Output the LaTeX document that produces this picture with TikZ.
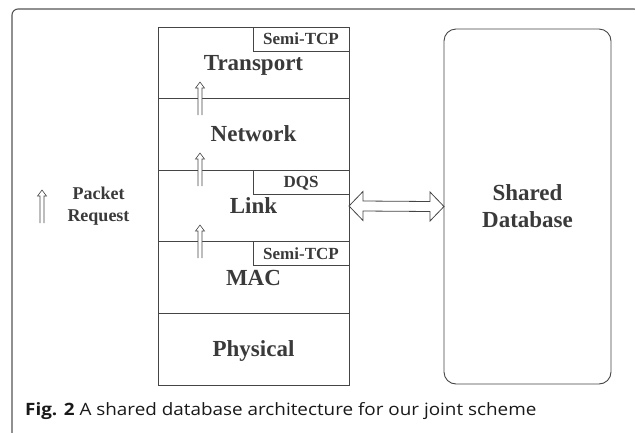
\documentclass[tikz,border=0pt]{standalone}
\usepackage{fontspec}
\setmainfont{Liberation Serif}
\newfontfamily\capfont[FakeStretch=1.11]{Open Sans}
\usetikzlibrary{positioning,calc}

\definecolor{inkgray}{HTML}{3A3A3A}
\definecolor{linegray}{HTML}{454545}
\definecolor{framegray}{HTML}{555555}

\begin{document}
\begin{tikzpicture}[x=1pt,y=-1pt,
  layer/.style={draw=linegray, line width=0.9pt, outer sep=0pt, inner sep=0pt,
    minimum width=191pt, minimum height=71.6pt, text=inkgray,
    font=\fontsize{23}{23}\selectfont\bfseries, text height=15pt, text depth=0pt},
  tag/.style={draw=linegray, line width=0.9pt, fill=white, outer sep=0pt, inner sep=0pt,
    minimum width=96pt, minimum height=24pt, anchor=north east, text=inkgray,
    font=\fontsize{17}{17}\selectfont\bfseries, text height=11pt, text depth=0pt},
  dbbox/.style={draw=linegray, line width=0.9pt, rounded corners=12pt, outer sep=0pt,
    minimum width=167pt, minimum height=355pt, align=center, text=inkgray,
    font=\fontsize{23}{27}\selectfont\bfseries},
  fatarrow/.style={draw=linegray, line width=0.8pt, fill=white, line join=miter},
  pktup/.pic={\filldraw[fill=white, draw=linegray, line width=0.6pt]
    (-2,33) -- (-2,6) -- (-4.5,6) -- (0,0) -- (4.5,6) -- (2,6) -- (2,33);}]

\useasboundingbox (0,0) rectangle (635,432);
\clip (0,0) rectangle (635,432);

% outer frame
\draw[framegray, line width=1.1pt, rounded corners=6pt] (12,440) -- (12,9) -- (640,9) -- (640,440);

% protocol stack
\node[layer] (transport) at (253.5,62.8) {Transport};
\node[layer, below=0pt of transport] (network) {Network};
\node[layer, below=0pt of network] (link) {Link};
\node[layer, below=0pt of link] (mac) {MAC};
\node[layer, below=0pt of mac] (physical) {Physical};

\node[tag] (semitcp) at (transport.north east) {Semi-TCP};
\node[tag] (dqs) at (link.north east) {DQS};
\node[tag] (macsemitcp) at (mac.north east) {Semi-TCP};

% packet requests
\pic at (200,82) {pktup};
\pic at (200,153) {pktup};
\pic at (200,225) {pktup};

% legend
\pic at (42,190) {pktup};
\node[align=center, text=inkgray, font=\fontsize{18}{21.5}\selectfont\bfseries] (legend) at (98.5,206) {Packet\\Request};

% database
\node[dbbox] (db) at (527.5,206.5) {Shared\\Database};

\draw[fatarrow] (link.east) -- ++(14,-14.5) -- ++(0,9.5) -- ($(db.west)+(-14,-5)$) -- ++(0,-9.5)
  -- (db.west) -- ++(-14,14.5) -- ++(0,-9.5) -- ($(link.east)+(14,5)$) -- ++(0,9.5) -- cycle;

% caption
\node[anchor=base west, inner sep=0pt, text=black!90] (caption) at (25,415)
  {\capfont\fontsize{17}{17}\selectfont\textbf{Fig. 2} A shared database architecture for our joint scheme};
\end{tikzpicture}
\end{document}
